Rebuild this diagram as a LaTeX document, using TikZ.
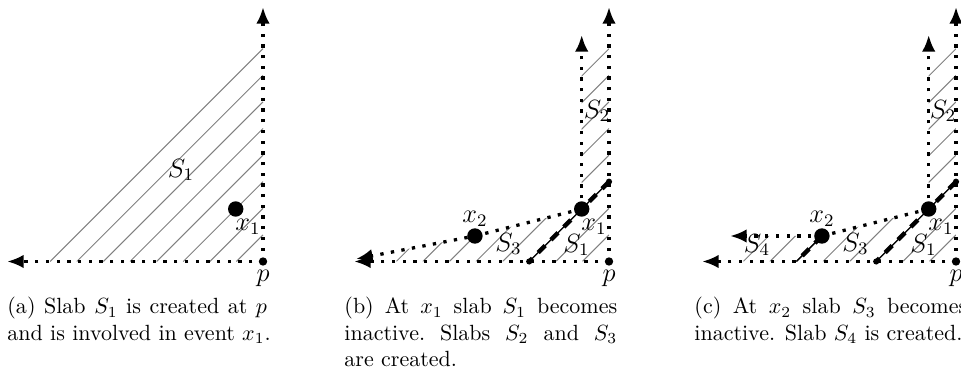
\documentclass[tikz,border=0pt]{standalone}
\usetikzlibrary{arrows.meta}
\begin{document}
\begin{tikzpicture}[x=0.4545pt,y=-0.4545pt,
  axisline/.style={line width=1.5pt, dash pattern=on 1.5pt off 3.36pt, -{Latex[length=7.6pt,width=6.2pt]}},
  bndline/.style={line width=1.5pt, dash pattern=on 1.5pt off 3.36pt},
  hatchline/.style={black!50, line width=0.45pt},
  thinline/.style={line width=0.6pt},
  thickdash/.style={line width=2pt, dash pattern=on 4.5pt off 3.7pt},
  bigdot/.style={circle, fill=black, inner sep=0pt, minimum size=7pt},
  pdot/.style={circle, fill=black, inner sep=0pt, minimum size=3.8pt},
  enddot/.style={circle, fill=black, inner sep=0pt, minimum size=2.8pt},
  lbl/.style={inner sep=0pt, font=\large},
  plbl/.style={inner sep=0pt, font=\large, anchor=base},
  captext/.style={anchor=base west, inner sep=0pt, font=\normalsize},
]
\useasboundingbox (0,0) rectangle (961,376);

% ---------------- panel (a)
\coordinate (pa) at (263,261.5);
\coordinate (ta) at (263,7);
\coordinate (la) at (7,261.5);
\coordinate (x1a) at (235.7,209);
\foreach \k in {1,...,8}
  \draw[hatchline] ({263-26.6*\k},261.5) -- (263,{261.5-26.6*\k});
\draw[axisline] (pa) -- (ta);
\draw[axisline] (pa) -- (la);
\node[bigdot] (dx1a) at (x1a) {};
\node[pdot] (dpa) at (pa) {};
\node[lbl] (s1a) at (181,170) {$S_1$};
\node[lbl] (lx1a) at (248,226.5) {$x_1$};
\node[plbl] (lpa) at (263,282) {$p$};

% ---------------- panel (b)
\coordinate (pb) at (609,261.5);
\coordinate (tb) at (609,7);
\coordinate (lb) at (354,261.5);
\coordinate (x1b) at (581.7,209);
\coordinate (itb) at (581.7,35);
\coordinate (x2b) at (474.9,236);
\coordinate (ub) at (356,259);
\coordinate (d1b) at (529.2,261.5);
\coordinate (d2b) at (609,181.7);
\begin{scope}
  \clip (350,261.5) -- (ub) -- (x2b) -- (x1b) -- (581.7,0) -- (609,0) -- (pb) -- cycle;
  \foreach \k in {1,...,8}
    \draw[hatchline] ({609-26.6*\k},261.5) -- (609,{261.5-26.6*\k});
\end{scope}
\draw[axisline] (pb) -- (tb);
\draw[axisline] (pb) -- (lb);
\draw[axisline] (x1b) -- (itb);
\draw[axisline] (x1b) -- (x2b) -- (ub);
\draw[thinline] (d1b) -- (d2b);
\draw[thickdash] (d2b) -- (d1b);
\node[enddot] (ed1b) at (d1b) {};
\node[enddot] (ed2b) at (d2b) {};
\node[bigdot] (dx1b) at (x1b) {};
\node[bigdot] (dx2b) at (x2b) {};
\node[pdot] (dpb) at (pb) {};
\node[lbl] (s2b) at (597,111) {$S_2$};
\node[lbl] (lx1b) at (594,226.5) {$x_1$};
\node[lbl] (lx2b) at (475,219) {$x_2$};
\node[lbl] (s1b) at (576.5,245) {$S_1$};
\node[lbl] (s3b) at (508.5,244) {$S_3$};
\node[plbl] (lpb) at (609,282) {$p$};

% ---------------- panel (c)
\coordinate (pc) at (956,261.5);
\coordinate (tc) at (956,7);
\coordinate (lc) at (702,261.5);
\coordinate (x1c) at (928.7,209);
\coordinate (itc) at (928.7,35);
\coordinate (x2c) at (821.9,236);
\coordinate (uc) at (730,236);
\coordinate (d1c) at (876.2,261.5);
\coordinate (d2c) at (956,181.7);
\coordinate (d3c) at (796.4,261.5);
\begin{scope}
  \clip (690,261.5) -- (690,236) -- (x2c) -- (x1c) -- (928.7,0) -- (956,0) -- (pc) -- cycle;
  \foreach \k in {1,...,8}
    \draw[hatchline] ({956-26.6*\k},261.5) -- (956,{261.5-26.6*\k});
\end{scope}
\draw[axisline] (pc) -- (tc);
\draw[axisline] (pc) -- (lc);
\draw[axisline] (x1c) -- (itc);
\draw[bndline] (x1c) -- (x2c);
\draw[axisline] (x2c) -- (uc);
\draw[thinline] (d1c) -- (d2c);
\draw[thickdash] (d2c) -- (d1c);
\draw[thinline] (x2c) -- (d3c);
\draw[thickdash] (x2c) -- (d3c);
\node[enddot] (ed1c) at (d1c) {};
\node[enddot] (ed2c) at (d2c) {};
\node[bigdot] (dx1c) at (x1c) {};
\node[bigdot] (dx2c) at (x2c) {};
\node[pdot] (dpc) at (pc) {};
\node[lbl] (s2c) at (943,111) {$S_2$};
\node[lbl] (lx1c) at (941,227) {$x_1$};
\node[lbl] (lx2c) at (822,219) {$x_2$};
\node[lbl] (s1c) at (923.5,245) {$S_1$};
\node[lbl] (s3c) at (855.5,244) {$S_3$};
\node[lbl] (s4c) at (757,245) {$S_4$};
\node[plbl] (lpc) at (956,282) {$p$};

% ---------------- captions
\node[captext] (capa1) at (7,314) {\makebox[118pt][s]{(a) Slab $S_1$ is created at $p$}};
\node[captext] (capa2) at (7,340.4) {and is involved in event $x_1$.};
\node[captext] (capb1) at (344,314) {\makebox[124pt][s]{(b) At $x_1$ slab $S_1$ becomes}};
\node[captext] (capb2) at (344,340.4) {\makebox[124pt][s]{inactive.\ Slabs $S_2$ and $S_3$}};
\node[captext] (capb3) at (344,366.8) {are created.};
\node[captext] (capc1) at (694,314) {\makebox[124pt][s]{(c) At $x_2$ slab $S_3$ becomes}};
\node[captext] (capc2) at (694,340.4) {inactive. Slab $S_4$ is created.};
\end{tikzpicture}
\end{document}
